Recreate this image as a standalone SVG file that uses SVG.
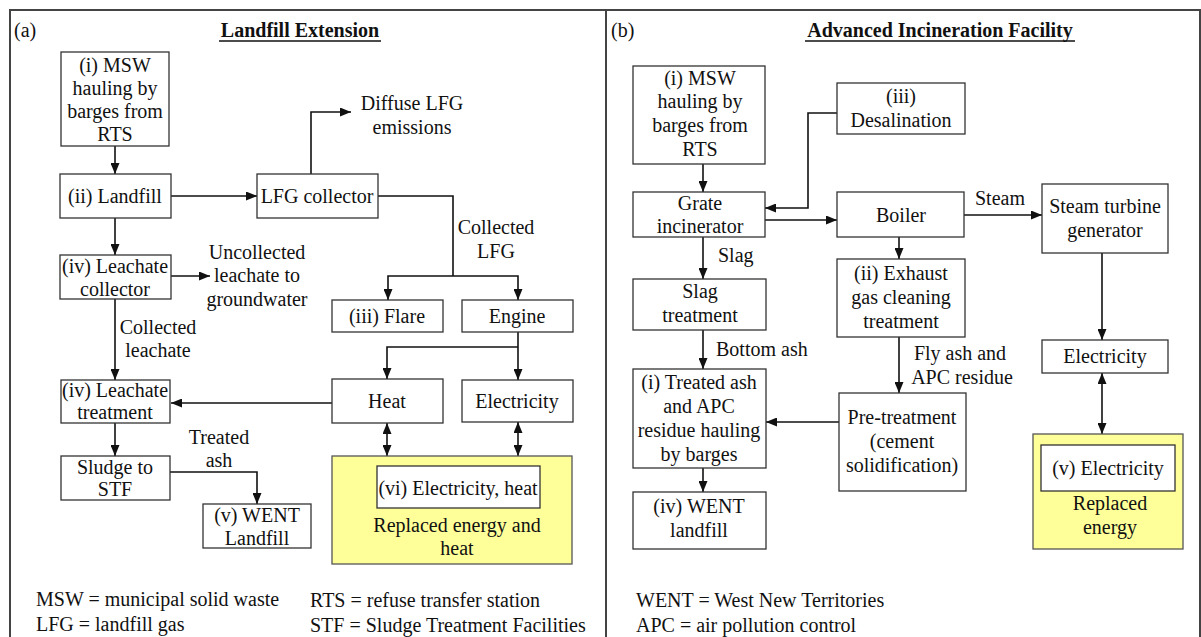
<svg xmlns="http://www.w3.org/2000/svg" width="1201" height="637" viewBox="0 0 1201 637">
  <style>
    text { font-family: "Liberation Serif", "Times New Roman", serif; font-size: 20px; fill: #111; }
    .c { text-anchor: middle; }
    .title { font-weight: bold; font-size: 20px; text-anchor: middle; }
    .box { fill: #fff; stroke: #333; stroke-width: 1.3; }
    .yel { fill: #FFFF99; stroke: #555; stroke-width: 1.3; }
    .frame { stroke: #444; stroke-width: 2; fill: none; }
    .con path { fill: none; stroke: #111; stroke-width: 1.6; }
    .arr { marker-end: url(#ah); }
    .dbl { marker-start: url(#ah); marker-end: url(#ah); }
  </style>
  <defs>
    <marker id="ah" viewBox="0 0 11 9" refX="11" refY="4.5" markerWidth="11" markerHeight="9" markerUnits="userSpaceOnUse" orient="auto-start-reverse">
      <path d="M0,0 L11,4.5 L0,9 z" fill="#111"/>
    </marker>
  </defs>

  <rect width="1201" height="637" fill="#fff"/>

  <!-- panel frames -->
  <g id="frame">
    <path class="frame" d="M10,637 V10 H1200 V637"/>
    <path class="frame" d="M606,10 V637"/>
  </g>

  <!-- panel headings -->
  <g id="headings">
    <text x="14" y="37">(a)</text>
    <text class="title" x="300" y="37">Landfill Extension</text>
    <line x1="219" y1="41" x2="381" y2="41" stroke="#111" stroke-width="1.5"/>
    <text x="611" y="37">(b)</text>
    <text class="title" x="940" y="37">Advanced Incineration Facility</text>
    <line x1="805" y1="41" x2="1075" y2="41" stroke="#111" stroke-width="1.5"/>
  </g>

  <!-- connectors -->
  <g id="connectors" class="con">
    <!-- panel (a) -->
    <path class="arr" d="M115,146 V174"/>
    <path class="arr" d="M171,196 H257"/>
    <path class="arr" d="M311,174 V112 H351"/>
    <path d="M378,196 H453 V276"/>
    <path class="arr" d="M453,276 H388 V300"/>
    <path class="arr" d="M453,276 H518 V300"/>
    <path class="arr" d="M518,332 V380"/>
    <path class="arr" d="M518,347 H387 V379"/>
    <path class="arr" d="M332,403 H171"/>
    <path class="dbl" d="M387,423 V456"/>
    <path class="dbl" d="M518,422 V456"/>
    <path class="arr" d="M115,218 V255"/>
    <path class="arr" d="M171,276 H210"/>
    <path class="arr" d="M115,299 V380"/>
    <path class="arr" d="M115,423 V456"/>
    <path class="arr" d="M170,472 H257 V504"/>
    <!-- panel (b) -->
    <path class="arr" d="M703,164 V192"/>
    <path class="arr" d="M837,113 H808 V208 H765"/>
    <path class="arr" d="M765,220 H837"/>
    <path class="arr" d="M964,215 H1042"/>
    <path class="arr" d="M1102,253 V340"/>
    <path class="dbl" d="M1102,373 V434"/>
    <path class="arr" d="M899,237 V259"/>
    <path class="arr" d="M899,337 V393"/>
    <path class="arr" d="M839,422 H766"/>
    <path class="arr" d="M703,237 V279"/>
    <path class="arr" d="M703,330 V369"/>
    <path class="arr" d="M703,468 V492"/>
  </g>

  <!-- connector labels -->
  <g id="labels">
    <text class="c" x="412" y="110">Diffuse LFG</text>
    <text class="c" x="412" y="134">emissions</text>
    <text class="c" x="496" y="234">Collected</text>
    <text class="c" x="496" y="258">LFG</text>
    <text class="c" x="257" y="259">Uncollected</text>
    <text class="c" x="257" y="282">leachate to</text>
    <text class="c" x="257" y="306">groundwater</text>
    <text class="c" x="158" y="334">Collected</text>
    <text class="c" x="158" y="357">leachate</text>
    <text class="c" x="219" y="444">Treated</text>
    <text class="c" x="219" y="467">ash</text>
    <text x="718" y="262">Slag</text>
    <text x="716" y="356">Bottom ash</text>
    <text class="c" x="960" y="360">Fly ash and</text>
    <text class="c" x="962" y="384">APC residue</text>
    <text x="975" y="205">Steam</text>
  </g>

  <!-- panel (a) nodes -->
  <g id="a-msw">
    <rect class="box" x="61" y="52" width="108" height="94"/>
    <text class="c" x="115" y="72">(i) MSW</text>
    <text class="c" x="115" y="95">hauling by</text>
    <text class="c" x="115" y="118">barges from</text>
    <text class="c" x="115" y="141">RTS</text>
  </g>
  <g id="a-landfill">
    <rect class="box" x="60" y="174" width="111" height="44"/>
    <text class="c" x="115" y="203">(ii) Landfill</text>
  </g>
  <g id="a-lfg-collector">
    <rect class="box" x="257" y="174" width="121" height="44"/>
    <text class="c" x="317" y="203">LFG collector</text>
  </g>
  <g id="a-flare">
    <rect class="box" x="332" y="300" width="111" height="32"/>
    <text class="c" x="387" y="323">(iii) Flare</text>
  </g>
  <g id="a-engine">
    <rect class="box" x="462" y="300" width="111" height="32"/>
    <text class="c" x="517" y="323">Engine</text>
  </g>
  <g id="a-heat">
    <rect class="box" x="332" y="379" width="111" height="44"/>
    <text class="c" x="387" y="408">Heat</text>
  </g>
  <g id="a-electricity">
    <rect class="box" x="462" y="380" width="111" height="42"/>
    <text class="c" x="517" y="408">Electricity</text>
  </g>
  <g id="a-replaced">
    <rect class="yel" x="332" y="456" width="240" height="108"/>
    <rect class="box" x="377" y="466" width="163" height="42"/>
    <text class="c" x="458" y="495">(vi) Electricity, heat</text>
    <text class="c" x="457" y="532">Replaced energy and</text>
    <text class="c" x="457" y="555">heat</text>
  </g>
  <g id="a-leachate-collector">
    <rect class="box" x="60" y="255" width="111" height="44"/>
    <text class="c" x="115" y="273">(iv) Leachate</text>
    <text class="c" x="115" y="296">collector</text>
  </g>
  <g id="a-leachate-treatment">
    <rect class="box" x="61" y="380" width="109" height="43"/>
    <text class="c" x="115" y="397">(iv) Leachate</text>
    <text class="c" x="115" y="419">treatment</text>
  </g>
  <g id="a-sludge">
    <rect class="box" x="61" y="456" width="109" height="44"/>
    <text class="c" x="115" y="474">Sludge to</text>
    <text class="c" x="115" y="496">STF</text>
  </g>
  <g id="a-went">
    <rect class="box" x="203" y="504" width="108" height="44"/>
    <text class="c" x="257" y="522">(v) WENT</text>
    <text class="c" x="257" y="545">Landfill</text>
  </g>

  <!-- panel (b) nodes -->
  <g id="b-msw">
    <rect class="box" x="633" y="66" width="132" height="98"/>
    <text class="c" x="700" y="85">(i) MSW</text>
    <text class="c" x="700" y="108">hauling by</text>
    <text class="c" x="700" y="132">barges from</text>
    <text class="c" x="700" y="156">RTS</text>
  </g>
  <g id="b-desalination">
    <rect class="box" x="837" y="83" width="128" height="51"/>
    <text class="c" x="901" y="103">(iii)</text>
    <text class="c" x="901" y="127">Desalination</text>
  </g>
  <g id="b-grate">
    <rect class="box" x="633" y="192" width="132" height="45"/>
    <text class="c" x="700" y="210">Grate</text>
    <text class="c" x="700" y="233">incinerator</text>
  </g>
  <g id="b-boiler">
    <rect class="box" x="837" y="192" width="127" height="45"/>
    <text class="c" x="901" y="222">Boiler</text>
  </g>
  <g id="b-turbine">
    <rect class="box" x="1042" y="184" width="126" height="69"/>
    <text class="c" x="1105" y="213">Steam turbine</text>
    <text class="c" x="1105" y="237">generator</text>
  </g>
  <g id="b-exhaust">
    <rect class="box" x="837" y="259" width="128" height="78"/>
    <text class="c" x="901" y="280">(ii) Exhaust</text>
    <text class="c" x="901" y="304">gas cleaning</text>
    <text class="c" x="901" y="328">treatment</text>
  </g>
  <g id="b-pretreatment">
    <rect class="box" x="839" y="393" width="127" height="98"/>
    <text class="c" x="902" y="424">Pre-treatment</text>
    <text class="c" x="902" y="448">(cement</text>
    <text class="c" x="902" y="472">solidification)</text>
  </g>
  <g id="b-electricity">
    <rect class="box" x="1042" y="340" width="126" height="33"/>
    <text class="c" x="1105" y="363">Electricity</text>
  </g>
  <g id="b-replaced">
    <rect class="yel" x="1033" y="434" width="150" height="115"/>
    <rect class="box" x="1041" y="445" width="134" height="46"/>
    <text class="c" x="1108" y="475">(v) Electricity</text>
    <text class="c" x="1110" y="510">Replaced</text>
    <text class="c" x="1110" y="534">energy</text>
  </g>
  <g id="b-slag">
    <rect class="box" x="633" y="279" width="133" height="51"/>
    <text class="c" x="700" y="298">Slag</text>
    <text class="c" x="700" y="322">treatment</text>
  </g>
  <g id="b-treated-ash">
    <rect class="box" x="633" y="369" width="133" height="99"/>
    <text class="c" x="699" y="389">(i) Treated ash</text>
    <text class="c" x="699" y="413">and APC</text>
    <text class="c" x="699" y="437">residue hauling</text>
    <text class="c" x="699" y="461">by barges</text>
  </g>
  <g id="b-went">
    <rect class="box" x="633" y="492" width="133" height="57"/>
    <text class="c" x="699" y="513">(iv) WENT</text>
    <text class="c" x="699" y="537">landfill</text>
  </g>

  <!-- abbreviations -->
  <g id="legend">
    <text x="36" y="606">MSW = municipal solid waste</text>
    <text x="36" y="631">LFG = landfill gas</text>
    <text x="310" y="607">RTS = refuse transfer station</text>
    <text x="310" y="632">STF = Sludge Treatment Facilities</text>
    <text x="636" y="607">WENT = West New Territories</text>
    <text x="636" y="632">APC = air pollution control</text>
  </g>
</svg>
